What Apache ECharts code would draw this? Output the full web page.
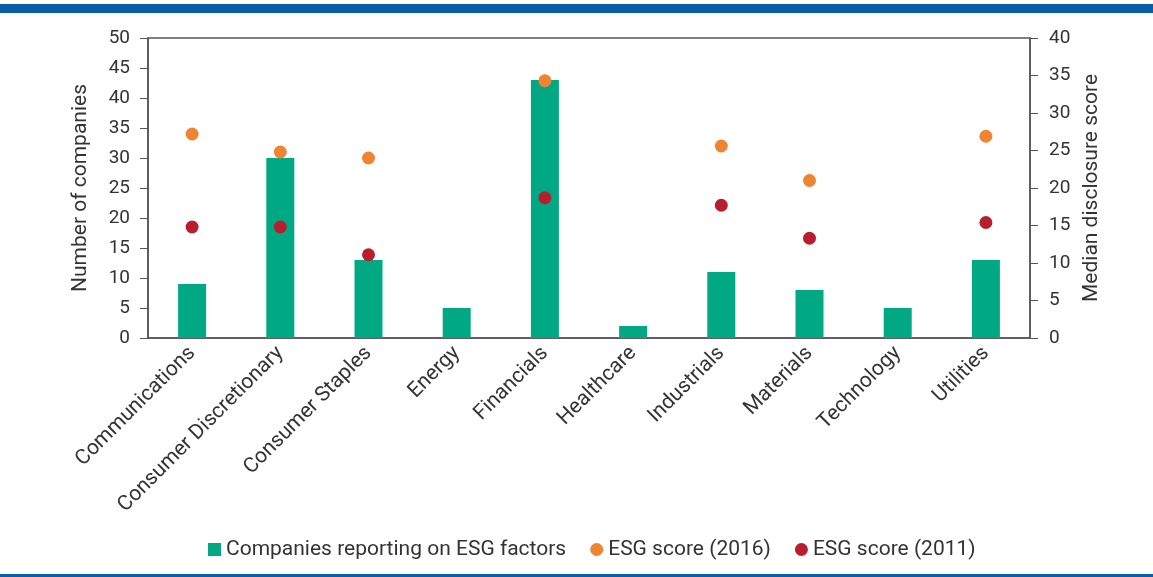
<!DOCTYPE html>
<html>
<head>
<meta charset="utf-8">
<script src="https://cdn.jsdelivr.net/npm/echarts@6/dist/echarts.min.js"></script>
<style>
html, body { margin: 0; padding: 0; background: #fff; }
#main { width: 1153px; height: 577px; }
</style>
</head>
<body>
<div id="main"></div>
<script>
// 数据
var sectors = ['Communications', 'Consumer Discretionary', 'Consumer Staples', 'Energy', 'Financials',
    'Healthcare', 'Industrials', 'Materials', 'Technology', 'Utilities'];
var companies = [9, 30, 13, 5, 43, 2, 11, 8, 5, 13];
var score2016 = [27.2, 24.8, 24.0, '-', 34.3, '-', 25.6, 21.0, '-', 26.9];
var score2011 = [14.8, 14.8, 11.1, '-', 18.7, '-', 17.7, 13.3, '-', 15.4];
var leftTicks = [0, 50, 5];
var rightTicks = [0, 40, 5];

var txt = '#333';
var axisCol = '#555';
var fnt = 'Roboto';

var chart = echarts.init(document.getElementById('main'));
var option = {
    animation: false,
    textStyle: { fontFamily: fnt },
    grid: {
        left: 148, right: 123, top: 38, bottom: 239,
        show: true, borderColor: axisCol, borderWidth: 1.5
    },
    graphic: [
        { type: 'rect', shape: { x: 0, y: 4, width: 1153, height: 9 }, style: { fill: '#0a5ea8' } },
        { type: 'rect', shape: { x: 0, y: 574, width: 1153, height: 3 }, style: { fill: '#0a5ea8' } }
    ],
    legend: {
        bottom: 12,
        left: 203,
        itemGap: 24,
        itemWidth: 13,
        itemHeight: 13,
        textStyle: { color: txt, fontSize: 21, fontFamily: fnt },
        data: [
            { name: 'Companies reporting on ESG factors', icon: 'rect' },
            { name: 'ESG score (2016)', icon: 'circle' },
            { name: 'ESG score (2011)', icon: 'circle' }
        ]
    },
    xAxis: {
        type: 'category',
        data: sectors,
        axisLine: { lineStyle: { color: axisCol, width: 1.5 } },
        axisTick: { show: false },
        axisLabel: { rotate: 45, color: txt, fontSize: 21, margin: 12, interval: 0 }
    },
    yAxis: [{
        type: 'value',
        min: leftTicks[0], max: leftTicks[1], interval: leftTicks[2],
        name: 'Number of companies',
        nameLocation: 'middle',
        nameRotate: 90,
        nameGap: 57,
        nameTextStyle: { color: txt, fontSize: 21 },
        axisLine: { show: true, lineStyle: { color: axisCol, width: 1.5 } },
        axisTick: { show: true, length: 8, lineStyle: { color: axisCol } },
        axisLabel: { color: txt, fontSize: 19, margin: 18 },
        splitLine: { show: false }
    }, {
        type: 'value',
        min: rightTicks[0], max: rightTicks[1], interval: rightTicks[2],
        name: 'Median disclosure score',
        nameLocation: 'middle',
        nameRotate: 90,
        nameGap: 46,
        nameTextStyle: { color: txt, fontSize: 21 },
        axisLine: { show: true, lineStyle: { color: axisCol, width: 1.5 } },
        axisTick: { show: true, length: 8, lineStyle: { color: axisCol } },
        axisLabel: { color: txt, fontSize: 19, margin: 19 },
        splitLine: { show: false }
    }],
    series: [{
        name: 'Companies reporting on ESG factors',
        type: 'bar',
        data: companies,
        barWidth: 28,
        itemStyle: { color: '#00a884' }
    }, {
        name: 'ESG score (2016)',
        type: 'scatter',
        yAxisIndex: 1,
        data: score2016,
        symbolSize: 13,
        itemStyle: { color: '#f08433', opacity: 1 }
    }, {
        name: 'ESG score (2011)',
        type: 'scatter',
        yAxisIndex: 1,
        data: score2011,
        symbolSize: 13,
        itemStyle: { color: '#b71f2e', opacity: 1 }
    }]
};
chart.setOption(option);
</script>
</body>
</html>
